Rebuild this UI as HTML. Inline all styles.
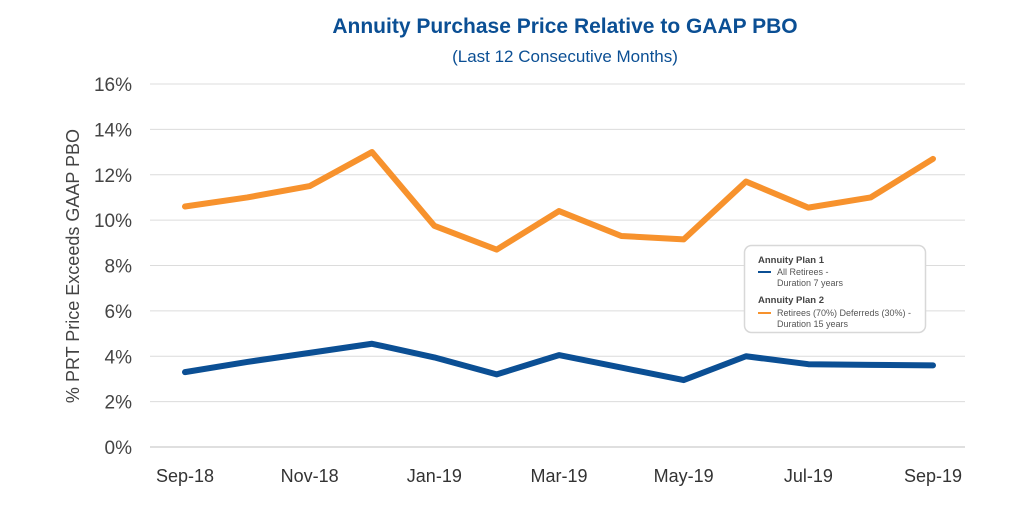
<!DOCTYPE html>
<html><head><meta charset="utf-8"><style>
body{margin:0;background:#fff;}
svg text{font-family:"Liberation Sans",sans-serif;}
</style></head><body>
<svg id="chart" width="1024" height="512" viewBox="0 0 1024 512">
<text x="565" y="33" text-anchor="middle" font-size="21" font-weight="bold" fill="#0b4f94">Annuity Purchase Price Relative to GAAP PBO</text>
<text x="565" y="62" text-anchor="middle" font-size="17" fill="#0b4f94">(Last 12 Consecutive Months)</text>
<text transform="translate(79,266) rotate(-90)" text-anchor="middle" font-size="18" fill="#444">% PRT Price Exceeds GAAP PBO</text>
<g id="grid"></g><g id="yticks"></g><g id="xticks"></g><g id="series"></g>
<g>
<rect x="744.5" y="245.5" width="181" height="87" rx="7" fill="#fff" stroke="#d8d8d8" stroke-width="1.5"/>
<text x="758" y="263" font-size="9.5" font-weight="bold" fill="#444">Annuity Plan 1</text>
<line x1="758" y1="272" x2="771" y2="272" stroke="#0b4f94" stroke-width="2"/>
<text x="777" y="275" font-size="9" fill="#555">All Retirees -</text>
<text x="777" y="286" font-size="9" fill="#555">Duration 7 years</text>
<text x="758" y="303" font-size="9.5" font-weight="bold" fill="#444">Annuity Plan 2</text>
<line x1="758" y1="313" x2="771" y2="313" stroke="#f7922d" stroke-width="2"/>
<text x="777" y="316" font-size="9" fill="#555">Retirees (70%) Deferreds (30%) -</text>
<text x="777" y="327" font-size="9" fill="#555">Duration 15 years</text>
</g>
</svg>
<script>
const months=["Sep-18","Oct-18","Nov-18","Dec-18","Jan-19","Feb-19","Mar-19","Apr-19","May-19","Jun-19","Jul-19","Aug-19","Sep-19"];
const plan1=[3.3,3.75,4.15,4.55,3.95,3.2,4.05,3.5,2.95,4.0,3.65,3.62,3.6];
const plan2=[10.6,11.0,11.5,13.0,9.75,8.7,10.4,9.3,9.15,11.7,10.55,11.0,12.7];
const yTicks=[0,2,4,6,8,10,12,14,16];
const NS="http://www.w3.org/2000/svg";
const x=i=>185+i*(933-185)/(months.length-1);
const y=v=>447-v*(447-84)/16;
function mk(t,a,p){const e=document.createElementNS(NS,t);for(const k in a)e.setAttribute(k,a[k]);p.appendChild(e);return e;}
const grid=document.getElementById('grid'),yt=document.getElementById('yticks'),xt=document.getElementById('xticks'),se=document.getElementById('series');
yTicks.forEach(v=>{
 const l=mk('line',{x1:150,x2:965,y1:y(v),y2:y(v),stroke:v===0?'#bfbfbf':'#dcdcdc','stroke-width':1},grid);
 
 
 const t=mk('text',{x:132,y:y(v)+7,'text-anchor':'end','font-size':19,fill:'#444'},yt);
 t.textContent=v+'%';
 
 
});
months.forEach((m,i)=>{
 if(i%2)return;
 const t=mk('text',{x:x(i),y:482,'text-anchor':'middle','font-size':18,fill:'#333'},xt);
 t.textContent=m;
 
 
});
function line(d,c,n){
 const p=mk('polyline',{points:d.map((v,i)=>x(i)+','+y(v)).join(' '),fill:'none',stroke:c,'stroke-width':6,'stroke-linejoin':'round','stroke-linecap':'round'},se);
 
 
}
line(plan2,'#f7922d','plan2-line');
line(plan1,'#0b4f94','plan1-line');
</script>
</body></html>
